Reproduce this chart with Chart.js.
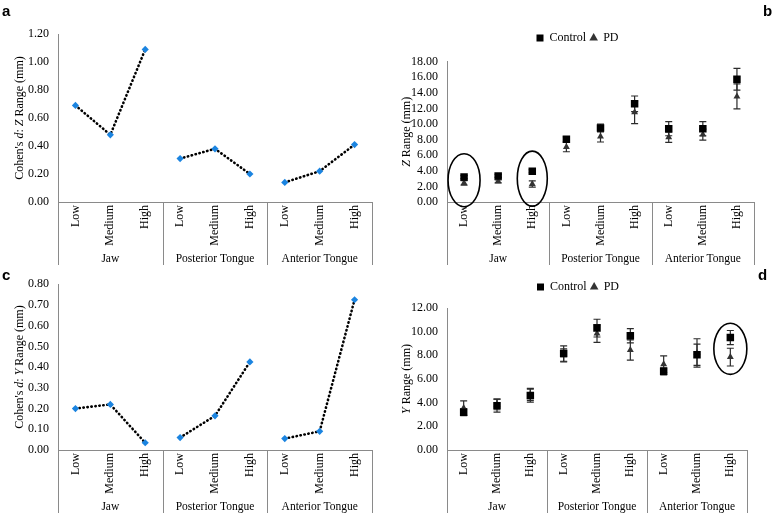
<!DOCTYPE html>
<html lang="en">
<head>
<meta charset="UTF-8">
<title>Cohen's d and range by region</title>
<script src="https://cdn.jsdelivr.net/npm/chart.js@4.4.0/dist/chart.umd.min.js"></script>
<style>
  body { margin: 0; background: #fff; }
  #fig { position: relative; width: 774px; height: 517px; background: #fff; }
  #fig canvas { position: absolute; }
  .tag { position: absolute; font: bold 15px "Liberation Sans", Arial, sans-serif; line-height: 15px; color: #000; }
</style>
</head>
<body>
<div id="fig">
  <canvas id="chartA" width="387" height="268" style="left:0;top:0"></canvas>
  <canvas id="chartB" width="387" height="268" style="left:387px;top:0"></canvas>
  <canvas id="chartC" width="387" height="249" style="left:0;top:268px"></canvas>
  <canvas id="chartD" width="387" height="249" style="left:387px;top:268px"></canvas>
  <div class="tag" style="left:2px;top:3px">a</div>
  <div class="tag" style="left:763px;top:3px">b</div>
  <div class="tag" style="left:2px;top:267px">c</div>
  <div class="tag" style="left:758px;top:267px">d</div>
</div>
<script>
// categories
var levels = ['Low', 'Medium', 'High'];
var regions = ['Jaw', 'Posterior Tongue', 'Anterior Tongue'];

// a: Cohen's d, Z range
var dZ = [0.69, 0.48, 1.09, 0.31, 0.38, 0.20, 0.14, 0.22, 0.41];
// c: Cohen's d, Y range
var dY = [0.20, 0.22, 0.035, 0.06, 0.165, 0.425, 0.055, 0.09, 0.725];

// b: Z range (mm)
var zControl    = [3.2, 3.35, 3.95, 8.05, 9.5, 12.6, 9.4, 9.4, 15.75];
var zControlErr = [0.2, 0.2, 0.2, 0.3, 0.5, 1.0, 0.9, 0.9, 1.4];
var zPD         = [2.45, 2.65, 2.3, 7.05, 8.4, 11.5, 8.3, 8.65, 13.55];
var zPDErr      = [0.3, 0.2, 0.4, 0.6, 0.7, 1.45, 0.65, 0.7, 1.6];

// d: Y range (mm)
var yControl    = [3.2, 3.75, 4.6, 8.15, 10.3, 9.65, 6.65, 8.05, 9.5];
var yControlErr = [0.3, 0.55, 0.55, 0.65, 0.75, 0.6, 0.3, 0.9, 0.6];
var yPD         = [3.55, 3.85, 4.7, 8.0, 9.85, 8.45, 7.25, 8.2, 7.85];
var yPDErr      = [0.6, 0.45, 0.5, 0.55, 0.75, 0.85, 0.7, 1.2, 0.75];

var labels = [];
regions.forEach(function () { levels.forEach(function (l) { labels.push(l); }); });

var serif = '"Liberation Serif", "Times New Roman", serif';
var axisColor = '#8a8a8a';
var blue = '#1b84e0';
var AXIS_H = 63;

// region row under the category labels, with the dividing lines
var groupAxis = {
  id: 'groupAxis',
  afterDraw: function (chart) {
    var ctx = chart.ctx, a = chart.chartArea, x = chart.scales.x;
    var edges = [a.left];
    for (var g = 1; g < regions.length; g++) edges.push(x.getPixelForValue(g * levels.length - 0.5));
    edges.push(a.right);
    ctx.save();
    ctx.strokeStyle = axisColor;
    ctx.lineWidth = 1;
    edges.forEach(function (px) {
      var p = Math.round(px) + 0.5;
      ctx.beginPath();
      ctx.moveTo(p, a.bottom);
      ctx.lineTo(p, a.bottom + AXIS_H);
      ctx.stroke();
    });
    ctx.fillStyle = '#000';
    ctx.font = '11.5px ' + serif;
    ctx.textAlign = 'center';
    ctx.textBaseline = 'middle';
    regions.forEach(function (r, g) {
      ctx.fillText(r, (edges[g] + edges[g + 1]) / 2, a.bottom + 57);
    });
    ctx.restore();
  }
};

// y title with italic parts
var richTitle = {
  id: 'richTitle',
  afterDraw: function (chart, args, opts) {
    if (!opts.parts) return;
    var ctx = chart.ctx, a = chart.chartArea;
    ctx.save();
    ctx.translate(opts.x, (a.top + a.bottom) / 2);
    ctx.rotate(-Math.PI / 2);
    ctx.textBaseline = 'middle';
    ctx.fillStyle = '#000';
    var total = 0;
    var widths = opts.parts.map(function (p) {
      ctx.font = (p[1] ? 'italic ' : '') + '12px ' + serif;
      var w = ctx.measureText(p[0]).width;
      total += w;
      return w;
    });
    var cx = -total / 2;
    opts.parts.forEach(function (p, i) {
      ctx.font = (p[1] ? 'italic ' : '') + '12px ' + serif;
      ctx.fillText(p[0], cx, 0);
      cx += widths[i];
    });
    ctx.restore();
  }
};

// +/- error bars, drawn under the markers
var errorBars = {
  id: 'errorBars',
  beforeDatasetsDraw: function (chart) {
    var ctx = chart.ctx, ys = chart.scales.y;
    ctx.save();
    ctx.strokeStyle = '#2b2b2b';
    ctx.lineWidth = 1.2;
    chart.data.datasets.forEach(function (ds, i) {
      if (!ds.errors) return;
      var meta = chart.getDatasetMeta(i);
      meta.data.forEach(function (pt, j) {
        var v = ds.data[j], e = ds.errors[j];
        var top = ys.getPixelForValue(v + e), bot = ys.getPixelForValue(v - e);
        ctx.beginPath();
        ctx.moveTo(pt.x, top); ctx.lineTo(pt.x, bot);
        ctx.moveTo(pt.x - 3.5, top); ctx.lineTo(pt.x + 3.5, top);
        ctx.moveTo(pt.x - 3.5, bot); ctx.lineTo(pt.x + 3.5, bot);
        ctx.stroke();
      });
    });
    ctx.restore();
  }
};

// circled points
var rings = {
  id: 'rings',
  afterDatasetsDraw: function (chart, args, opts) {
    if (!opts.items) return;
    var ctx = chart.ctx;
    ctx.save();
    ctx.strokeStyle = '#000';
    ctx.lineWidth = 1.6;
    opts.items.forEach(function (it) {
      var cx = chart.scales.x.getPixelForValue(it.index);
      var cy = chart.scales.y.getPixelForValue(it.value);
      ctx.beginPath();
      ctx.ellipse(cx, cy, it.rx, it.ry, 0, 0, Math.PI * 2);
      ctx.stroke();
    });
    ctx.restore();
  }
};

// extra gap under the legend, and a small sideways nudge
var legendGap = {
  id: 'legendGap',
  beforeLayout: function (chart, args, opts) {
    var lg = chart.legend;
    if (!lg || lg._gapped || !opts.extra) return;
    var fit = lg.fit;
    lg.fit = function () { fit.call(this); this.height += opts.extra; };
    lg._gapped = true;
  },
  afterLayout: function (chart, args, opts) {
    var lg = chart.legend;
    if (!lg || !opts.shift) return;
    lg.left += opts.shift;
    lg.right += opts.shift;
  }
};

function scales(yMax, yStep, yWidth) {
  return {
    x: {
      type: 'category',
      offset: true,
      grid: { display: false, drawTicks: false },
      border: { display: true, color: axisColor, width: 1 },
      ticks: {
        autoSkip: false, minRotation: 90, maxRotation: 90, padding: 3,
        color: '#000', font: { family: serif, size: 12 }
      },
      afterFit: function (s) { s.height = AXIS_H; }
    },
    y: {
      min: 0, max: yMax,
      grid: { display: false, drawTicks: false },
      border: { display: true, color: axisColor, width: 1 },
      ticks: {
        stepSize: yStep, autoSkip: false, padding: 9, color: '#000',
        font: { family: serif, size: 12 },
        callback: function (v) { return Number(v).toFixed(2); }
      },
      afterFit: function (s) { s.width = yWidth; }
    }
  };
}

function effectChart(id, values, yMax, yStep, pad, titleParts) {
  return new Chart(document.getElementById(id), {
    type: 'line',
    data: {
      labels: labels,
      datasets: [{
        data: values,
        borderColor: '#000',
        borderWidth: 2.6,
        borderDash: [0.4, 3.6],
        borderCapStyle: 'round',
        tension: 0,
        segment: {
          borderColor: function (c) { return c.p0DataIndex % levels.length === levels.length - 1 ? 'transparent' : '#000'; }
        },
        pointStyle: 'rectRot',
        pointRadius: 3.6,
        pointBorderWidth: 0,
        pointBackgroundColor: blue,
        pointBorderColor: blue
      }]
    },
    options: {
      responsive: false,
      animation: false,
      layout: { padding: pad },
      scales: scales(yMax, yStep, 58),
      plugins: {
        legend: { display: false },
        tooltip: { enabled: false },
        richTitle: { x: 20, parts: titleParts }
      }
    },
    plugins: [groupAxis, richTitle]
  });
}

function rangeChart(id, ctrl, ctrlErr, pd, pdErr, yMax, pad, legendOpts, titleParts, ringItems) {
  return new Chart(document.getElementById(id), {
    type: 'line',
    data: {
      labels: labels,
      datasets: [{
        label: 'Control',
        data: ctrl,
        errors: ctrlErr,
        showLine: false,
        pointStyle: 'rect',
        pointRadius: 5.3,
        pointBorderWidth: 0,
        backgroundColor: '#000',
        borderColor: '#000'
      }, {
        label: 'PD',
        data: pd,
        errors: pdErr,
        showLine: false,
        pointStyle: 'triangle',
        pointRadius: 4,
        pointBorderWidth: 0,
        backgroundColor: '#333',
        borderColor: '#333'
      }]
    },
    options: {
      responsive: false,
      animation: false,
      layout: { padding: pad },
      scales: scales(yMax, 2, 60),
      plugins: {
        legend: {
          position: 'top',
          labels: {
            usePointStyle: true, boxWidth: 7, boxHeight: 7, padding: 4,
            color: '#000', font: { family: serif, size: 12 }
          }
        },
        tooltip: { enabled: false },
        legendGap: legendOpts,
        richTitle: { x: 20, parts: titleParts },
        rings: { items: ringItems }
      }
    },
    plugins: [legendGap, errorBars, groupAxis, richTitle, rings]
  });
}

effectChart('chartA', dZ, 1.2, 0.2, { top: 34, right: 15, bottom: 3, left: 0 },
  [["Cohen's ", 0], ['d', 1], [': ', 0], ['Z', 1], [' Range (mm)', 0]]);

effectChart('chartC', dY, 0.8, 0.1, { top: 14, right: 15, bottom: 4, left: 0 },
  [["Cohen's ", 0], ['d', 1], [': ', 0], ['Y', 1], [' Range (mm)', 0]]);

rangeChart('chartB', zControl, zControlErr, zPD, zPDErr, 18,
  { top: 28, right: 20, bottom: 3, left: 0 }, { extra: 7.7, shift: 7 },
  [['Z', 1], [' Range (mm)', 0]],
  [{ index: 0, value: 2.8, rx: 16, ry: 26.5 }, { index: 2, value: 3.0, rx: 15, ry: 27.5 }]);

rangeChart('chartD', yControl, yControlErr, yPD, yPDErr, 12,
  { top: 9, right: 27, bottom: 4, left: 0 }, { extra: 5, shift: 11 },
  [['Y', 1], [' Range (mm)', 0]],
  [{ index: 8, value: 8.55, rx: 16.5, ry: 25.5 }]);
</script>
</body>
</html>
